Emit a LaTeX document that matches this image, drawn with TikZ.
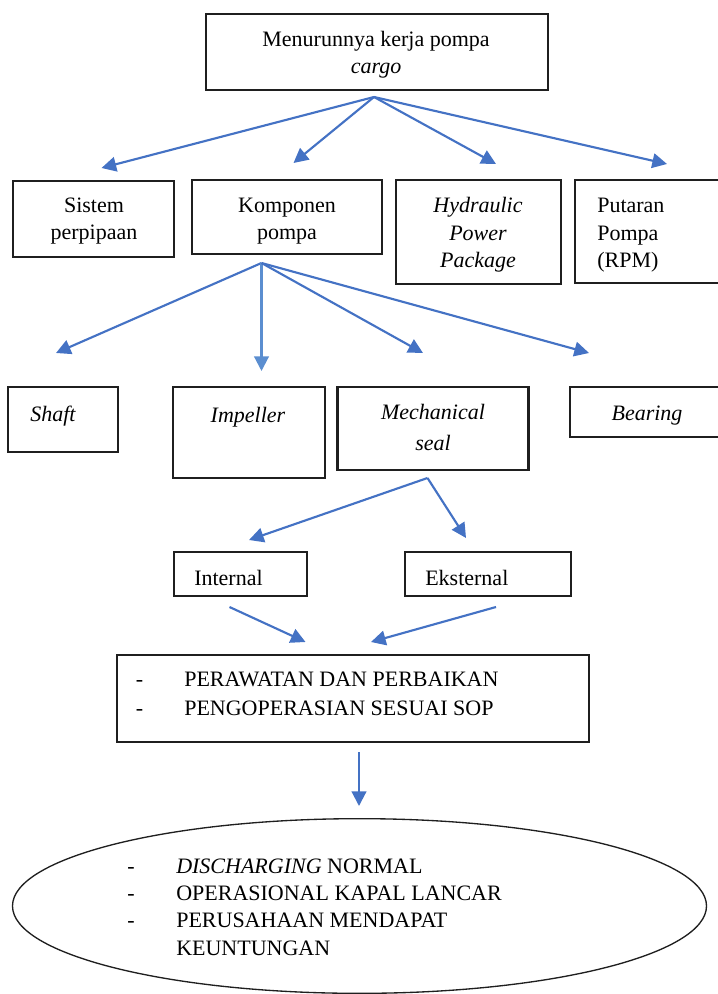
\documentclass[tikz,border=0pt]{standalone}
\usepackage{fontspec}
\setmainfont{Liberation Serif}
\usetikzlibrary{arrows.meta,fit,shapes.geometric}
\definecolor{arr}{HTML}{4472C4}
\definecolor{arrl}{HTML}{5B8ED0}
\begin{document}
\begin{tikzpicture}[x=0.75pt,y=-0.75pt,
  box/.style={draw=black!88, line width=1.6pt, inner sep=0pt},
  thinbox/.style={draw=black!88, line width=1.1pt, inner sep=0pt},
  arrow/.style={draw=arr, line width=1.6pt, -{Triangle[length=11pt,width=11pt]}},
  txt/.style={anchor=base, inner sep=0pt, font=\fontsize{16.5}{20}\selectfont},
  ltxt/.style={txt, anchor=base west},
  itxt/.style={txt, font=\fontsize{16.5}{20}\selectfont\itshape}]
\useasboundingbox (0,0) rectangle (717,994);

% boxes
\node[box, fit={(206,14)(548,90)}] (top) {};
\node[box, fit={(13,181)(174,257)}] (sis) {};
\node[box, fit={(192,180)(382,254)}] (komp) {};
\node[box, fit={(396,180)(561,284)}] (hyd) {};
\node[box, fit={(575,180)(722,283)}] (put) {};
\node[box, fit={(8,387)(118,452)}] (shaft) {};
\node[box, fit={(173,387)(325,478)}] (imp) {};
\node[box, fit={(337.5,387)(528.5,470)}] (mech) {};
\node[box, fit={(570,387)(722,437)}] (bear) {};
\node[box, fit={(174,552)(307,596)}] (int) {};
\node[box, fit={(405,552)(571,596)}] (eks) {};
\node[thinbox, fit={(117,655)(589,742)}] (per) {};
\node[draw=black!88, line width=1pt, ellipse, inner sep=0pt,
      minimum width=520.5pt, minimum height=131pt] (res) at (359.5,906) {};

% texts
\node[txt] (t-top1) at (376,47) {Menurunnya kerja pompa};
\node[itxt] (t-top2) at (376,74) {cargo};
\node[txt] (t-sis1) at (94,213) {Sistem};
\node[txt] (t-sis2) at (94,240) {perpipaan};
\node[txt] (t-komp1) at (287,213) {Komponen};
\node[txt] (t-komp2) at (287,240) {pompa};
\node[itxt] (t-hyd1) at (478,213) {Hydraulic};
\node[itxt] (t-hyd2) at (478,241) {Power};
\node[itxt] (t-hyd3) at (478,268) {Package};
\node[ltxt] (t-put1) at (597,213) {Putaran};
\node[ltxt] (t-put2) at (597,241) {Pompa};
\node[ltxt] (t-put3) at (597,268) {(RPM)};
\node[itxt, anchor=base west] (t-shaft) at (30,421) {Shaft};
\node[itxt] (t-imp) at (248,422) {Impeller};
\node[itxt] (t-mech1) at (433,419) {Mechanical};
\node[itxt] (t-mech2) at (433,450) {seal};
\node[itxt] (t-bear) at (647,420) {Bearing};
\node[ltxt] (t-int) at (194,585) {Internal};
\node[ltxt] (t-eks) at (425,585) {Eksternal};
\node[txt] (d-per1) at (139.5,686) {-};
\node[txt] (d-per2) at (139.5,715) {-};
\node[ltxt] (t-per1) at (184,686) {PERAWATAN DAN PERBAIKAN};
\node[ltxt] (t-per2) at (184,715) {PENGOPERASIAN SESUAI SOP};
\node[txt] (d-res1) at (131,873) {-};
\node[txt] (d-res2) at (131,900) {-};
\node[txt] (d-res3) at (131,927) {-};
\node[ltxt] (t-res1) at (176,873) {\textit{DISCHARGING} NORMAL};
\node[ltxt] (t-res2) at (176,900) {OPERASIONAL KAPAL LANCAR};
\node[ltxt] (t-res3) at (176,927) {PERUSAHAAN MENDAPAT};
\node[ltxt] (t-res4) at (176,955) {KEUNTUNGAN};

% connector end points
\coordinate (o1) at (374,97);
\coordinate (a1) at (101.5,168);
\coordinate (a2) at (293.5,163);
\coordinate (a3) at (496,164);
\coordinate (a4) at (667,164);
\coordinate (o2) at (261.5,263);
\coordinate (b1) at (56,353);
\coordinate (b2) at (261.5,371);
\coordinate (b3) at (423,353);
\coordinate (b4) at (589,353);
\coordinate (o3) at (427.5,478);
\coordinate (c1) at (249,540);
\coordinate (c2) at (466,538);
\coordinate (i1) at (229.5,607);
\coordinate (i2) at (305.5,642);
\coordinate (e1) at (496,607);
\coordinate (e2) at (371,642);
\coordinate (p1) at (359,752);
\coordinate (p2) at (359,806);

% connectors
\draw[arrow] (o1) -- (a1);
\draw[arrow] (o1) -- (a2);
\draw[arrow] (o1) -- (a3);
\draw[arrow] (o1) -- (a4);
\draw[arrow] (o2) -- (b1);
\draw[arrow, draw=arrl] (o2) -- (b2);
\draw[arrow] (o2) -- (b3);
\draw[arrow] (o2) -- (b4);
\draw[arrow] (o3) -- (c1);
\draw[arrow] (o3) -- (c2);
\draw[arrow] (i1) -- (i2);
\draw[arrow] (e1) -- (e2);
\draw[arrow] (p1) -- (p2);
\end{tikzpicture}
\end{document}
